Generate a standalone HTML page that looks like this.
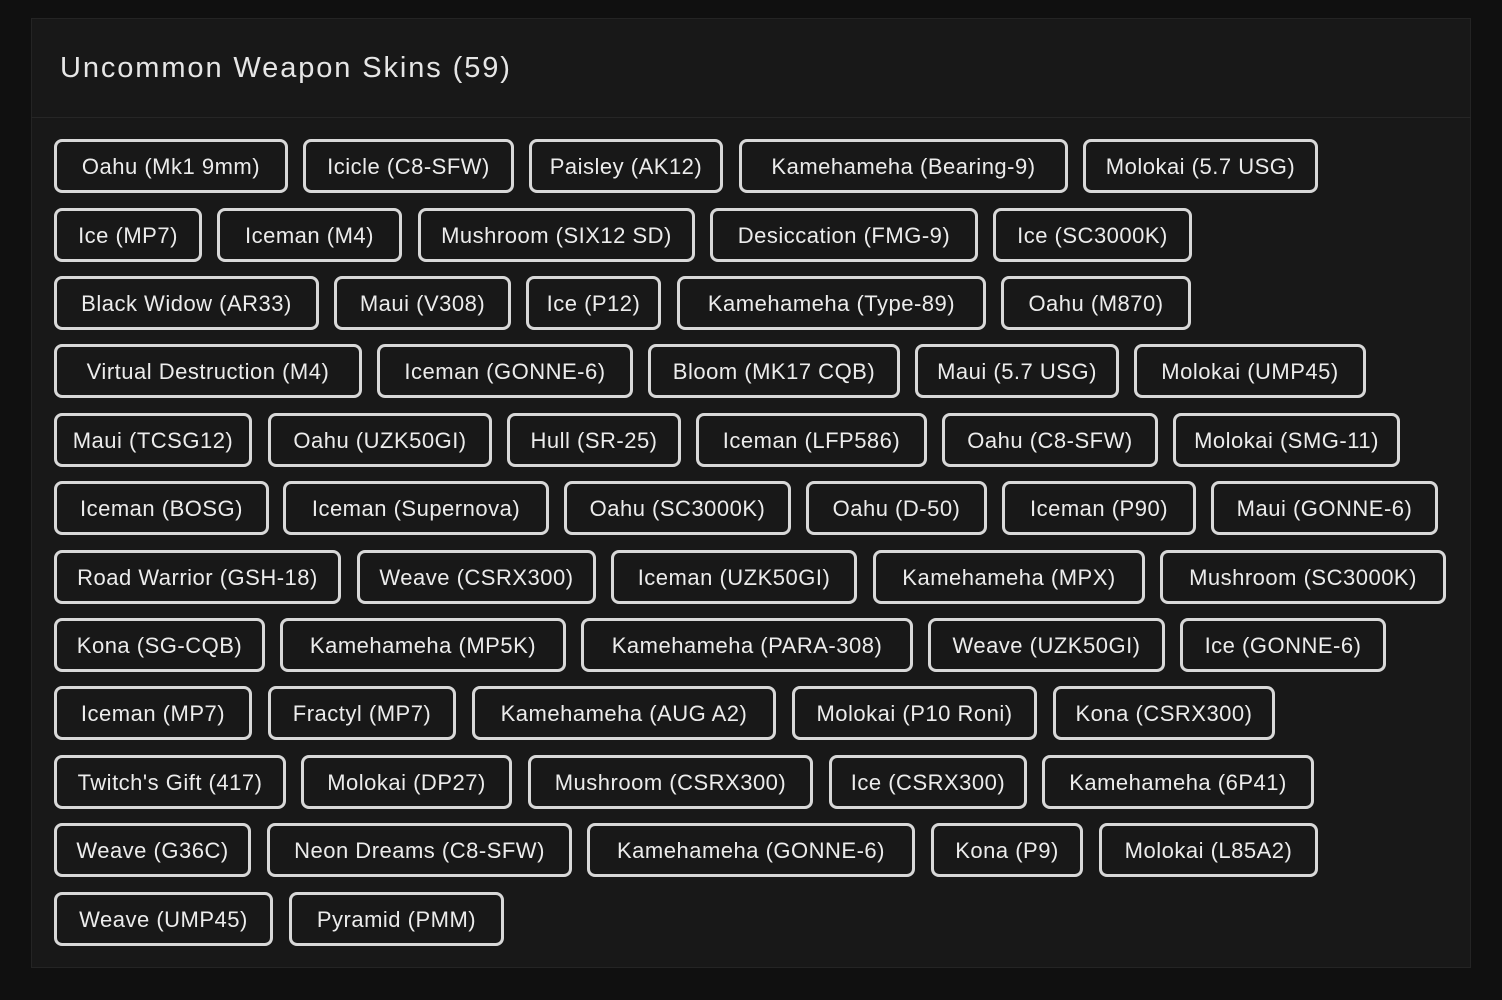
<!DOCTYPE html>
<html><head><meta charset="utf-8"><style>
html,body{margin:0;padding:0}
body{width:1502px;height:1000px;background:#101010;position:relative;overflow:hidden;font-family:"Liberation Sans",sans-serif}
.card{position:absolute;left:31px;top:18px;width:1438px;height:948px;background:#181818;border:1px solid #242424}
.hd{position:absolute;left:31px;top:117px;width:1440px;height:1px;background:#262626}
h1{position:absolute;left:60px;top:50px;margin:0;font-size:29px;font-weight:normal;color:#e6e6e6;letter-spacing:1.9px;line-height:36px}
.t{position:absolute;height:48px;box-sizing:content-box;border:3px solid #d8d8d8;border-radius:8px;color:#ececec;font-size:22px;line-height:50px;text-align:center;letter-spacing:0.5px;white-space:nowrap;overflow:hidden}
</style></head><body>
<div class="card"></div><div class="hd"></div>
<h1>Uncommon Weapon Skins (59)</h1>
<div id="c"></div>
<script>
const rows=[
[[54,288,"Oahu (Mk1 9mm)"],[303,514,"Icicle (C8-SFW)"],[529,723,"Paisley (AK12)"],[739,1068,"Kamehameha (Bearing-9)"],[1083,1318,"Molokai (5.7 USG)"]],
[[54,202,"Ice (MP7)"],[217,402,"Iceman (M4)"],[418,695,"Mushroom (SIX12 SD)"],[710,978,"Desiccation (FMG-9)"],[993,1192,"Ice (SC3000K)"]],
[[54,319,"Black Widow (AR33)"],[334,511,"Maui (V308)"],[526,661,"Ice (P12)"],[677,986,"Kamehameha (Type-89)"],[1001,1191,"Oahu (M870)"]],
[[54,362,"Virtual Destruction (M4)"],[377,633,"Iceman (GONNE-6)"],[648,900,"Bloom (MK17 CQB)"],[915,1119,"Maui (5.7 USG)"],[1134,1366,"Molokai (UMP45)"]],
[[54,252,"Maui (TCSG12)"],[268,492,"Oahu (UZK50GI)"],[507,681,"Hull (SR-25)"],[696,927,"Iceman (LFP586)"],[942,1158,"Oahu (C8-SFW)"],[1173,1400,"Molokai (SMG-11)"]],
[[54,269,"Iceman (BOSG)"],[283,549,"Iceman (Supernova)"],[564,791,"Oahu (SC3000K)"],[806,987,"Oahu (D-50)"],[1002,1196,"Iceman (P90)"],[1211,1438,"Maui (GONNE-6)"]],
[[54,341,"Road Warrior (GSH-18)"],[357,596,"Weave (CSRX300)"],[611,857,"Iceman (UZK50GI)"],[873,1145,"Kamehameha (MPX)"],[1160,1446,"Mushroom (SC3000K)"]],
[[54,265,"Kona (SG-CQB)"],[280,566,"Kamehameha (MP5K)"],[581,913,"Kamehameha (PARA-308)"],[928,1165,"Weave (UZK50GI)"],[1180,1386,"Ice (GONNE-6)"]],
[[54,252,"Iceman (MP7)"],[268,456,"Fractyl (MP7)"],[472,776,"Kamehameha (AUG A2)"],[792,1037,"Molokai (P10 Roni)"],[1053,1275,"Kona (CSRX300)"]],
[[54,286,"Twitch's Gift (417)"],[301,512,"Molokai (DP27)"],[528,813,"Mushroom (CSRX300)"],[829,1027,"Ice (CSRX300)"],[1042,1314,"Kamehameha (6P41)"]],
[[54,251,"Weave (G36C)"],[267,572,"Neon Dreams (C8-SFW)"],[587,915,"Kamehameha (GONNE-6)"],[931,1083,"Kona (P9)"],[1099,1318,"Molokai (L85A2)"]],
[[54,273,"Weave (UMP45)"],[289,504,"Pyramid (PMM)"]]];
const tops=[139,208,276,344,413,481,550,618,686,755,823,892];
let h="";
rows.forEach((r,i)=>r.forEach(([a,b,s])=>{h+=`<div class="t" style="left:${a}px;top:${tops[i]}px;width:${b-a-6}px">${s}</div>`}));
document.getElementById("c").innerHTML=h;
</script>
</body></html>
